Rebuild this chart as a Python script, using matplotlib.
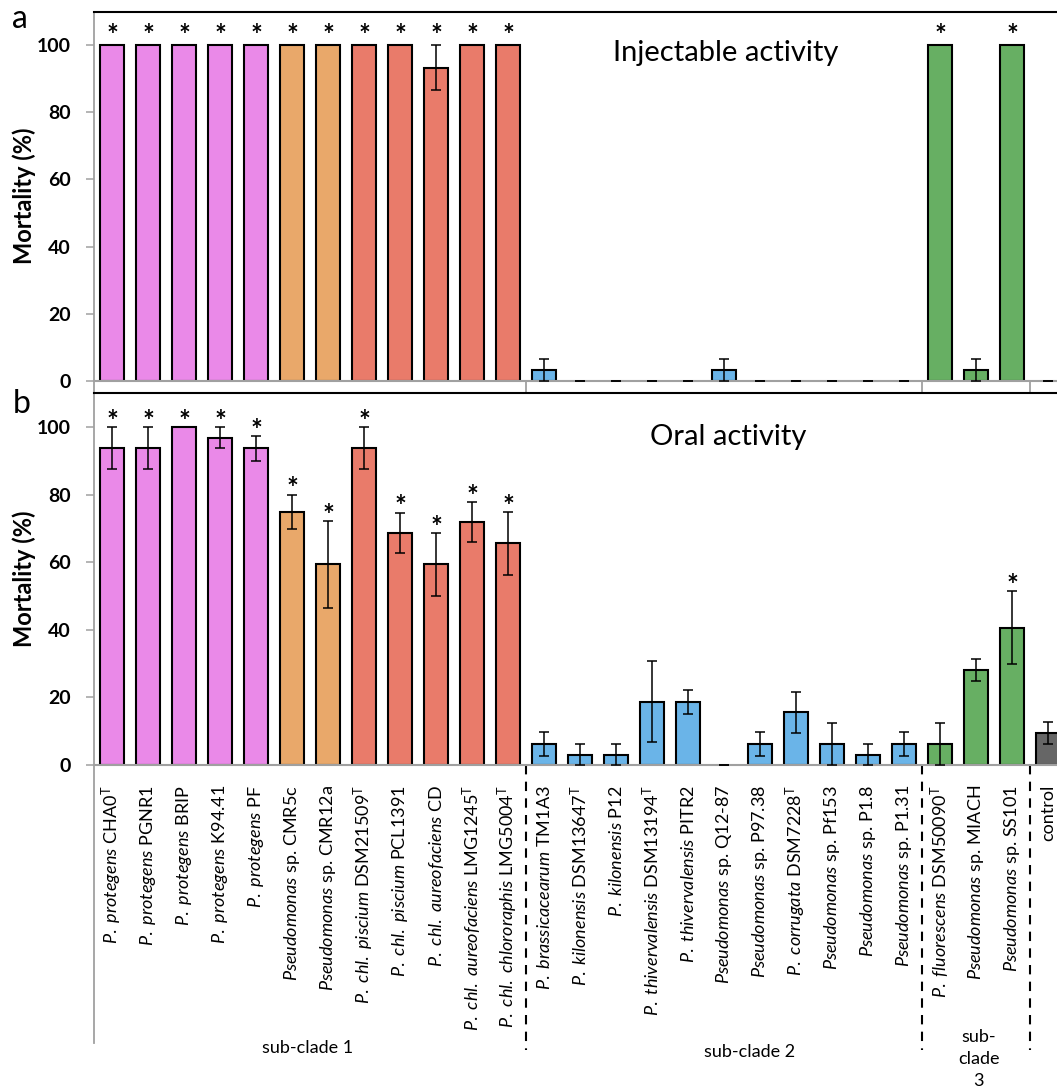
import matplotlib
matplotlib.use("Agg")
import matplotlib.pyplot as plt
import matplotlib.transforms as mtransforms
import numpy as np

plt.rcParams['font.family'] = ['Lato', 'DejaVu Sans']
plt.rcParams['mathtext.fontset'] = 'custom'
plt.rcParams['mathtext.rm'] = 'Lato'
plt.rcParams['mathtext.it'] = 'Lato:italic'
plt.rcParams['mathtext.bf'] = 'Lato:bold'

# ---------------- data ----------------
species = ["P. protegens", "P. protegens", "P. protegens", "P. protegens", "P. protegens",
           "Pseudomonas", "Pseudomonas",
           "P. chl. piscium", "P. chl. piscium", "P. chl. aureofaciens",
           "P. chl. aureofaciens", "P. chl. chlororaphis",
           "P. brassicacearum", "P. kilonensis", "P. kilonensis", "P. thivervalensis",
           "P. thivervalensis", "Pseudomonas", "Pseudomonas", "P. corrugata",
           "Pseudomonas", "Pseudomonas", "Pseudomonas",
           "P. fluorescens", "Pseudomonas", "Pseudomonas",
           ""]
strains = ["CHA0", "PGNR1", "BRIP", "K94.41", "PF",
           "sp. CMR5c", "sp. CMR12a",
           "DSM21509", "PCL1391", "CD", "LMG1245", "LMG5004",
           "TM1A3", "DSM13647", "P12", "DSM13194", "PITR2", "sp. Q12-87", "sp. P97.38",
           "DSM7228", "sp. Pf153", "sp. P1.8", "sp. P1.31",
           "DSM50090", "sp. MIACH", "sp. SS101",
           "control"]
type_strain = [1, 0, 0, 0, 0,
               0, 0,
               1, 0, 0, 1, 1,
               0, 1, 0, 1, 0, 0, 0, 1, 0, 0, 0,
               1, 0, 0,
               0]
color_group = (["protegens"] * 5 + ["sp1"] * 2 + ["chlororaphis"] * 5 +
               ["sub2"] * 11 + ["sub3"] * 3 + ["control"])

injectable_mean = [100, 100, 100, 100, 100, 100, 100, 100, 100, 93.3, 100, 100,
                   3.3, 0, 0, 0, 0, 3.3, 0, 0, 0, 0, 0,
                   100, 3.3, 100,
                   0]
injectable_err = [0, 0, 0, 0, 0, 0, 0, 0, 0, 6.7, 0, 0,
                  3.3, 0, 0, 0, 0, 3.3, 0, 0, 0, 0, 0,
                  0, 3.3, 0,
                  0]
injectable_sig = [1] * 12 + [0] * 11 + [1, 0, 1] + [0]

oral_mean = [93.75, 93.75, 100, 96.9, 93.75, 75, 59.4, 93.75, 68.75, 59.4, 71.9, 65.6,
             6.25, 3.1, 3.1, 18.75, 18.75, 0, 6.25, 15.6, 6.25, 3.1, 6.25,
             6.25, 28.1, 40.6,
             9.4]
oral_err = [6.25, 6.25, 0, 3.1, 3.6, 5, 12.8, 6.25, 6, 9.3, 6, 9.3,
            3.6, 3.1, 3.1, 12, 3.6, 0, 3.6, 6, 6.25, 3.1, 3.6,
            6.25, 3.2, 10.8,
            3.2]
oral_sig = [1] * 12 + [0] * 11 + [0, 0, 1] + [0]

clade_names = ["sub-clade 1", "sub-clade 2", "sub-\nclade\n3"]
clade_bounds = [-0.5, 11.5, 22.5, 25.5]

palette = {"protegens": "#EA89E8", "sp1": "#E9A86A", "chlororaphis": "#E97B6A",
           "sub2": "#6AB4E8", "sub3": "#67AF63", "control": "#666666"}

# ---------------- figure ----------------
W, H = 1057, 1092
fig = plt.figure(figsize=(W / 100, H / 100), dpi=100)

ax_a = fig.add_axes([94 / W, 1 - 381 / H, 972 / W, 369.5 / H])
ax_b = fig.add_axes([94 / W, 1 - 765 / H, 972 / W, 371.5 / H])

x = np.arange(len(strains))
colors = [palette[g] for g in color_group]
GRAY = "#A0A0A0"


def draw_panel(ax, mean, err, sig, star_off):
    mean = np.array(mean, float)
    err = np.array(err, float)
    lw = np.where(mean > 0, 1.5, 0.0)
    ax.bar(x, mean, width=0.64, color=colors, edgecolor="black", linewidth=lw, zorder=2)
    eb = ax.errorbar(x, mean, yerr=err, fmt="none", ecolor="black", elinewidth=1.1,
                     capsize=3.6, capthick=1.1, zorder=4)
    for art in eb.lines[1] + eb.lines[2]:
        art.set_clip_on(False)
    for xi, m, e, s in zip(x, mean, err, sig):
        if s:
            ax.annotate("*", (xi, m + e), xytext=(0, star_off), textcoords="offset points",
                        ha="center", va="baseline", fontsize=20, fontweight="bold",
                        zorder=5)
    ax.set_xlim(-0.5, 26.5)
    ax.set_ylim(0, 110)
    ax.set_yticks([0, 20, 40, 60, 80, 100])
    ax.tick_params(axis="y", direction="out", length=5.5, width=1.1, color=GRAY,
                   pad=11, labelsize=14)
    for lab in ax.get_yticklabels():
        lab.set_fontweight("bold")
    ax.spines["left"].set_color(GRAY)
    ax.spines["left"].set_linewidth(1.3)
    ax.spines["bottom"].set_color(GRAY)
    ax.spines["bottom"].set_linewidth(1.5)
    ax.spines["top"].set_color("black")
    ax.spines["top"].set_linewidth(1.5)
    ax.spines["right"].set_visible(False)
    ax.set_ylabel("Mortality (%)", fontsize=17, fontweight="bold")
    ax.yaxis.set_label_coords(-70 / 972, 0.5)
    ax.yaxis.label.set_va("center")


draw_panel(ax_a, injectable_mean, injectable_err, injectable_sig, 0.5)
draw_panel(ax_b, oral_mean, oral_err, oral_sig, -1.9)

# panel a category axis: only group-boundary ticks
ax_a.set_xticks(clade_bounds)
ax_a.set_xticklabels([])
ax_a.tick_params(axis="x", direction="out", length=8.6, width=1.3, color=GRAY)

# panel b category axis
ax_b.set_xticks([])
tb = mtransforms.blended_transform_factory(ax_b.transData, ax_b.transAxes)
for xi, sp, st, t in zip(x, species, strains, type_strain):
    sup = r"^{\mathrm{T}}" if t else ""
    if sp:
        sp_m = sp.replace(" ", r"\ ")
        s = r"$\mathit{" + sp_m + r"}\ \text{" + st + "}" + sup + "$"
    else:
        s = st
    ax_b.text(xi, (765 - 785) / 371.5, s, transform=tb, rotation=90,
              ha="center", va="top", fontsize=13)

yb_end = (765 - 1050) / 371.5
ax_b.plot([-0.5, -0.5], [0, (765 - 1043) / 371.5], transform=tb, color=GRAY,
          lw=1.3, clip_on=False)
for b in clade_bounds[1:]:
    ax_b.plot([b, b], [0, yb_end], transform=tb, color="black", lw=1.5,
              linestyle=(0, (4.5, 3.5)), clip_on=False)

clade_x = [5.42, 17.7, 24.08]
clade_y = [1048, 1052, 1059]
for name, cx, cy in zip(clade_names, clade_x, clade_y):
    ax_b.text(cx, (765 - cy) / 371.5, name, transform=tb, ha="center", va="center",
              fontsize=13, linespacing=1.45)

# titles and panel letters
fig.text(613 / W, 1 - 61 / H, "Injectable activity", fontsize=21, ha="left", va="baseline")
fig.text(650 / W, 1 - 445 / H, "Oral activity", fontsize=21, ha="left", va="baseline")
fig.text(20 / W, 1 - 28 / H, "a", fontsize=23, ha="center", va="baseline")
fig.text(22 / W, 1 - 413 / H, "b", fontsize=23, ha="center", va="baseline")

fig.savefig("out.png", dpi=100)
